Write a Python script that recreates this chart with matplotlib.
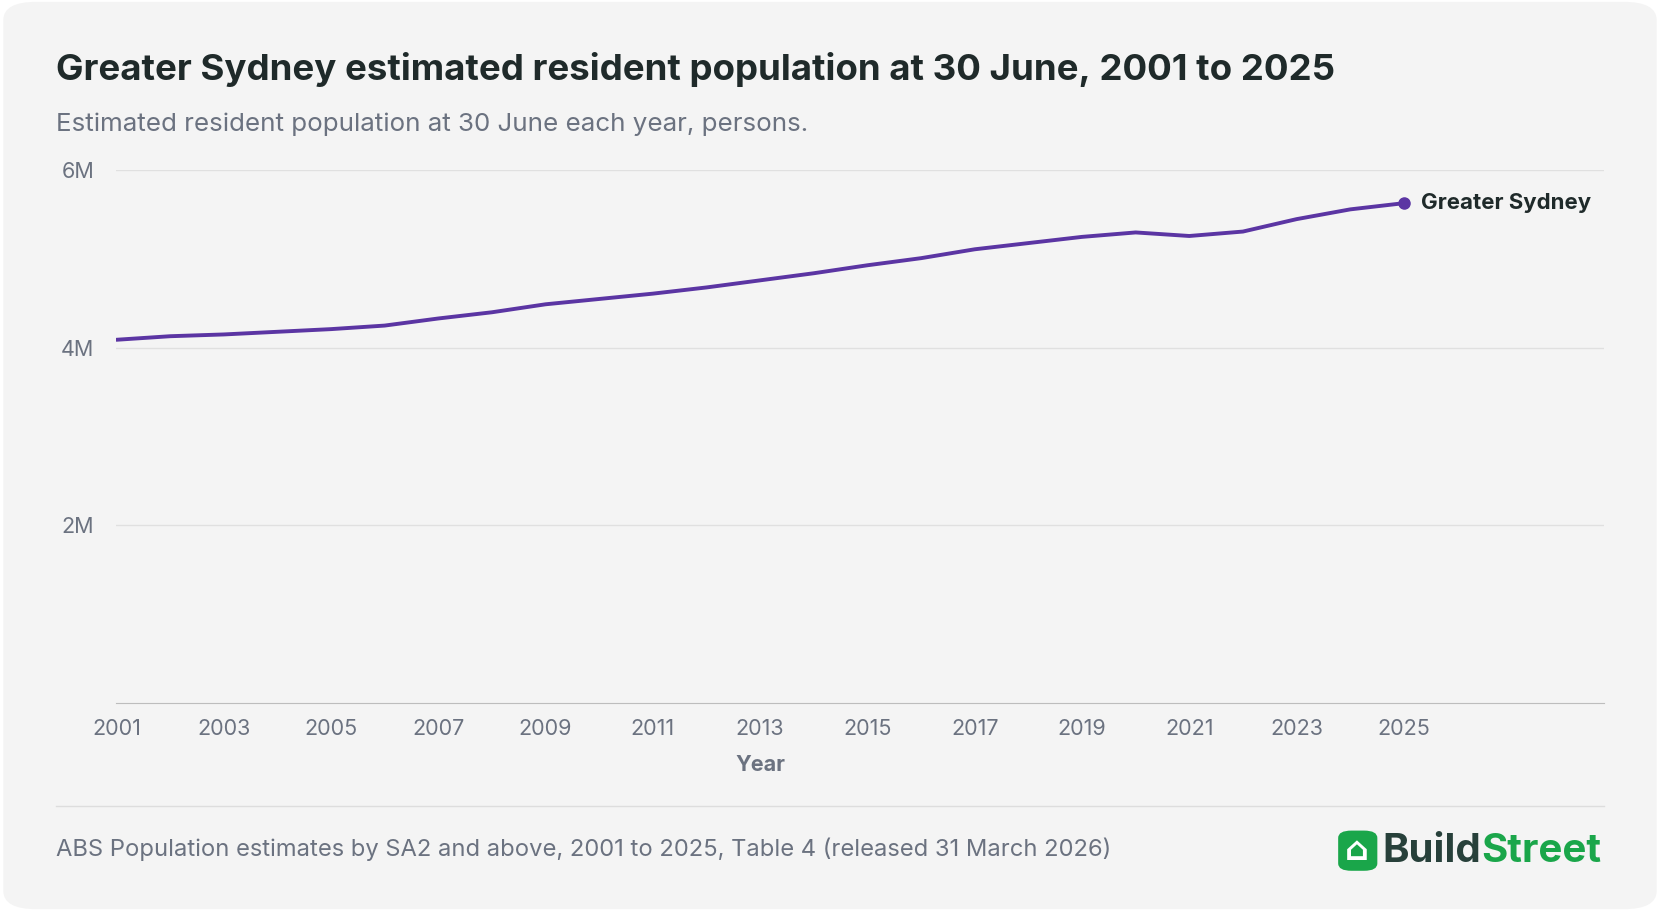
import matplotlib.pyplot as plt
from matplotlib.patches import FancyBboxPatch
from matplotlib.ticker import FuncFormatter

years = list(range(2001, 2026))
population_m = [4.09, 4.13, 4.15, 4.18, 4.21, 4.25, 4.33, 4.40, 4.49, 4.55,
                4.61, 4.68, 4.76, 4.84, 4.93, 5.01, 5.11, 5.18, 5.25, 5.30,
                5.26, 5.31, 5.45, 5.56, 5.63]
x_ticks = list(range(2001, 2026, 2))
y_ticks = [2, 4, 6]

plt.rcParams["font.family"] = ["Inter", "DejaVu Sans"]
W, H = 1568, 861
fig = plt.figure(figsize=(16.6, 9.11), dpi=100)
fig.patch.set_facecolor("#ffffff")
card = FancyBboxPatch((0.002, 0.002), 0.996, 0.996, boxstyle="round,pad=0,rounding_size=0.02",
                      transform=fig.transFigure, facecolor="#f4f4f4", edgecolor="none", zorder=-10)
fig.patches.append(card)

ax = fig.add_axes([110 / W, 1 - 664 / H, (1515 - 110) / W, (664 - 161) / H])
ax.set_facecolor("none")
purple = "#5b35a3"
ax.plot(years, population_m, color=purple, lw=2.8, solid_capstyle="round")
ax.plot(years[-1], population_m[-1], "o", color=purple, ms=8)
ax.annotate("Greater Sydney", (years[-1], population_m[-1]), xytext=(12, 0),
            textcoords="offset points", va="center", fontsize=16, fontweight="bold", color="#1f2a2a")
ax.set_xlim(2001, 2001 + (1515 - 110) / 50.67)
ax.set_ylim(0, 6)
ax.set_xticks(x_ticks)
ax.set_yticks(y_ticks)
ax.yaxis.set_major_formatter(FuncFormatter(lambda v, p: f"{v:.0f}M"))
ax.grid(axis="y", color="#e0e0e0", lw=1)
ax.tick_params(length=0, labelsize=15.5, colors="#6b7280", pad=12)
ax.tick_params(axis="y", pad=16)
for s in ["top", "right", "left"]:
    ax.spines[s].set_visible(False)
ax.spines["bottom"].set_color("#bdbdbd")
ax.set_xlabel("Year", fontsize=15.5, fontweight="bold", color="#6b7280")
ax.xaxis.set_label_coords((718 - 110) / 1405, -(723 - 664) / 503, transform=ax.transAxes)
ax.xaxis.label.set_va("center")

fig.text(53 / W, 1 - 66 / H, "Greater Sydney estimated resident population at 30 June, 2001 to 2025",
         fontsize=26.4, fontweight="bold", color="#1f2a2a", va="center")
fig.text(53 / W, 1 - 117 / H, "Estimated resident population at 30 June each year, persons.",
         fontsize=18.7, color="#6b7280", va="center")
fig.add_artist(plt.Line2D([53 / W, 1515 / W], [1 - 762 / H] * 2, color="#dddddd", lw=1))
fig.text(53 / W, 1 - 803 / H, "ABS Population estimates by SA2 and above, 2001 to 2025, Table 4 (released 31 March 2026)",
         fontsize=17.1, color="#6b7280", va="center")

green = "#1aa64a"
icon = FancyBboxPatch((1264 / W, 1 - 823 / H), 37 / W, 38 / H, boxstyle="round,pad=0,rounding_size=0.008",
                      transform=fig.transFigure, facecolor=green, edgecolor="none")
fig.patches.append(icon)
fig.text(1282 / W, 1 - 804 / H, "⌂", fontsize=24, color="white", ha="center", va="center",
         fontweight="bold", family="DejaVu Sans")
t = fig.text(1306 / W, 1 - 805 / H, "Build", fontsize=29, fontweight="bold", color="#27403a", va="center")
fig.canvas.draw()
bb = t.get_window_extent()
fig.text(bb.x1 / fig.bbox.width, 1 - 805 / H, "Street", fontsize=29, fontweight="bold", color=green, va="center")

fig.savefig("out.png", dpi=100, facecolor=fig.get_facecolor())
